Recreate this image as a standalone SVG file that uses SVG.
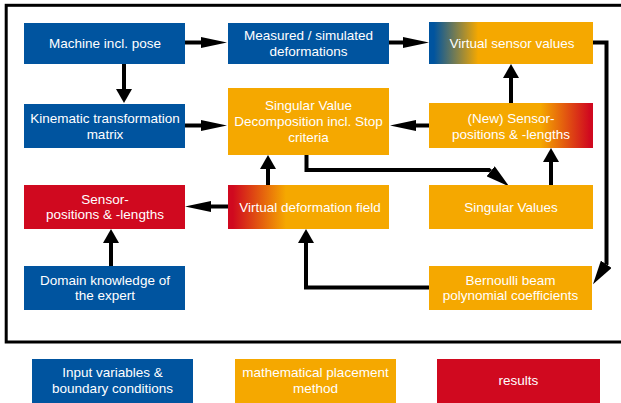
<svg xmlns="http://www.w3.org/2000/svg" width="621" height="403" viewBox="0 0 621 403">
<style>
.b{fill:#00549F}
.o{fill:#F5A800}
.r{fill:#D0091F}
text{font-family:"Liberation Sans",Arial,sans-serif;font-size:13.5px;fill:#FFFFFF;text-anchor:middle}
.ln{fill:none;stroke:#000;stroke-width:4}
</style>
<defs>
<linearGradient id="gsv" x1="0" y1="0" x2="1" y2="0">
<stop offset="0" stop-color="#00549F"/>
<stop offset="0.03" stop-color="#00549F"/>
<stop offset="0.3" stop-color="#F5A800"/>
</linearGradient>
<linearGradient id="gns" x1="0" y1="0" x2="1" y2="0">
<stop offset="0.68" stop-color="#F5A800"/>
<stop offset="0.98" stop-color="#D0091F"/>
</linearGradient>
<linearGradient id="gvd" x1="0" y1="0" x2="1" y2="0">
<stop offset="0" stop-color="#D0091F"/>
<stop offset="0.03" stop-color="#D0091F"/>
<stop offset="0.36" stop-color="#F5A800"/>
</linearGradient>
<marker id="ah" markerUnits="userSpaceOnUse" markerWidth="26" markerHeight="11" viewBox="0 0 26 11" refX="0" refY="5.5" orient="auto">
<path d="M0,0 L26,5.5 L0,11 z" fill="#000"/>
</marker>
<marker id="av" markerUnits="userSpaceOnUse" markerWidth="14" markerHeight="16" viewBox="0 0 14 16" refX="0" refY="8" orient="auto">
<path d="M0,0 L14,8 L0,16 z" fill="#000"/>
</marker>
<marker id="ad" markerUnits="userSpaceOnUse" markerWidth="24" markerHeight="13" viewBox="0 0 24 13" refX="0" refY="6.5" orient="auto">
<path d="M0,0 L24,6.5 L0,13 z" fill="#000"/>
</marker>
</defs>

<rect x="6.2" y="5.3" width="630" height="336.7" fill="none" stroke="#000" stroke-width="3"/>

<g id="connectors">
<path class="ln" d="M185,42.5 H201" marker-end="url(#ah)"/>
<path class="ln" d="M389,42.5 H403" marker-end="url(#ah)"/>
<path class="ln" d="M124,64 V89" marker-end="url(#av)"/>
<path class="ln" d="M185,125.5 H201" marker-end="url(#ah)"/>
<path class="ln" d="M429,125.5 H416" marker-end="url(#ah)"/>
<path class="ln" d="M511,103 V78" marker-end="url(#av)"/>
<path class="ln" d="M551,185 V162" marker-end="url(#av)"/>
<path class="ln" d="M268,185 V169" marker-end="url(#av)"/>
<path class="ln" d="M228,206.5 H211" marker-end="url(#ah)"/>
<path class="ln" d="M111,266 V243" marker-end="url(#av)"/>
<path class="ln" d="M429,287.5 H306 V243" marker-end="url(#av)"/>
<path class="ln" d="M306.5,155 V170 H489 L490.6,171.3" marker-end="url(#ad)"/>
<path class="ln" d="M593,42.5 H606.5 V264 L606.3,264.3" marker-end="url(#ad)"/>
</g>

<g id="n-machine"><rect class="b" x="24" y="23" width="161" height="41"/><text x="105" y="48.3">Machine incl. pose</text></g>
<g id="n-measured"><rect class="b" x="228" y="23" width="161" height="41"/><text x="308.5" y="40.3">Measured / simulated</text><text x="308.5" y="56.3">deformations</text></g>
<g id="n-virtualsensor"><rect x="429" y="22" width="164" height="42" fill="url(#gsv)"/><text x="512" y="48">Virtual sensor values</text></g>
<g id="n-kinematic"><rect class="b" x="24" y="104" width="161" height="44"/><text x="105" y="122.5">Kinematic transformation</text><text x="105" y="138.5">matrix</text></g>
<g id="n-svd"><rect class="o" x="228" y="88" width="161" height="67"/><text x="308.5" y="110">Singular Value</text><text x="308.5" y="126.3">Decomposition incl. Stop</text><text x="308.5" y="142">criteria</text></g>
<g id="n-newsensor"><rect x="429" y="103" width="164" height="45" fill="url(#gns)"/><text x="511" y="122.5">(New) Sensor-</text><text x="511" y="138.5">positions &amp; -lengths</text></g>
<g id="n-sensor"><rect class="r" x="24" y="185" width="161" height="44"/><text x="105" y="203.5">Sensor-</text><text x="105" y="219">positions &amp; -lengths</text></g>
<g id="n-vdf"><rect x="228" y="185" width="161" height="44" fill="url(#gvd)"/><text x="310" y="211.8">Virtual deformation field</text></g>
<g id="n-singular"><rect class="o" x="429" y="185" width="164" height="44"/><text x="511" y="211.8">Singular Values</text></g>
<g id="n-domain"><rect class="b" x="24" y="266" width="161" height="44"/><text x="105" y="284.5">Domain knowledge of</text><text x="105" y="300">the expert</text></g>
<g id="n-bernoulli"><rect class="o" x="429" y="266" width="163" height="44"/><text x="510.5" y="284.5">Bernoulli beam</text><text x="510.5" y="300">polynomial coefficients</text></g>

<g id="legend-input"><rect class="b" x="32" y="359" width="161" height="44"/><text x="112.5" y="377">Input variables &amp;</text><text x="112.5" y="392.7">boundary conditions</text></g>
<g id="legend-math"><rect class="o" x="235" y="359" width="161" height="44"/><text x="315.5" y="377">mathematical placement</text><text x="315.5" y="392.7">method</text></g>
<g id="legend-results"><rect class="r" x="437" y="359" width="163" height="44"/><text x="518.5" y="385.3">results</text></g>
</svg>
